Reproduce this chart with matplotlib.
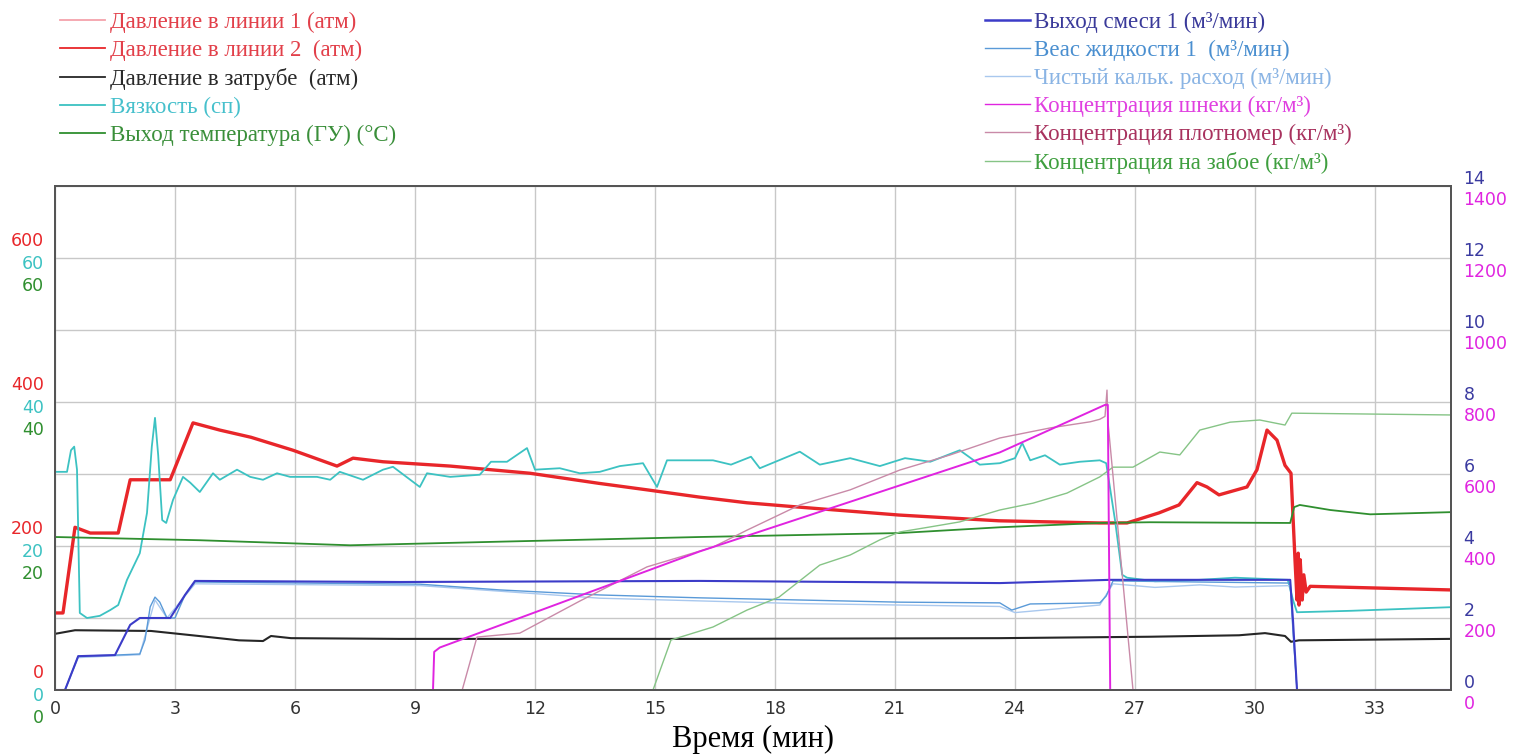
import matplotlib
matplotlib.use("Agg")
import matplotlib.pyplot as plt
from matplotlib.transforms import ScaledTranslation

# --- data (time in minutes) ---
t_p2 = [0, 0.2, 0.5, 0.88, 1.58, 1.88, 2.88, 3.45, 4.12, 4.9, 5.95, 7.05, 7.45, 8.2,
        9.88, 11.88, 13.6, 14.8, 16.1, 17.3, 18.6, 21.1, 23.6, 26.1, 26.8, 27.6, 28.1,
        28.55, 28.8, 29.1, 29.8, 30.05, 30.3, 30.55, 30.75, 30.9, 31.0, 31.05, 31.08,
        31.1, 31.13, 31.18, 31.22, 31.28, 31.38, 34.88]
p_line2 = [107, 107, 226, 218, 218, 292, 292, 371, 361, 351, 333, 311, 322, 317,
           311, 301, 287, 278, 268, 260, 254, 243, 235, 232, 232, 246, 257,
           288, 282, 271, 282, 306, 361, 347, 312, 301, 181, 125, 190,
           118, 181, 125, 160, 136, 144, 139]
# line 1 runs underneath line 2 for the whole record
t_p1 = t_p2
p_line1 = p_line2

t_ann = [0, 0.5, 2.4, 3.6, 4.6, 5.2, 5.4, 5.9, 8.6, 16.1, 23.6, 27.4, 29.6, 30.25,
         30.75, 30.9, 31.1, 34.88]
p_annulus = [78, 83, 82, 75, 69, 68, 75, 72, 71, 71, 72, 74, 76, 79, 75, 67, 69, 71]

t_visc = [0, 0.3, 0.4, 0.48, 0.55, 0.62, 0.8, 1.12, 1.38, 1.58, 1.8, 2.12, 2.3, 2.42,
          2.5, 2.58, 2.68, 2.78, 2.95, 3.2, 3.38, 3.62, 3.95, 4.12, 4.55, 4.88, 5.2,
          5.55, 5.88, 6.55, 6.88, 7.12, 7.7, 8.2, 8.45, 9.12, 9.3, 9.88, 10.62, 10.9,
          11.3, 11.8, 12.0, 12.62, 13.12, 13.62, 14.12, 14.7, 15.05, 15.3, 16.45,
          16.9, 17.4, 17.62, 18.62, 19.12, 19.88, 20.62, 21.25, 21.88, 22.62, 23.12,
          23.62, 24.0, 24.18, 24.38, 24.75, 25.12, 25.62, 26.12, 26.28, 26.5, 26.68,
          26.8, 27.5, 28.62, 29.5, 30.82, 30.95, 31.05, 32.4, 34.88]
viscosity = [30.3, 30.3, 33.3, 33.8, 30.6, 10.7, 10.0, 10.3, 11.1, 11.8, 15.3, 19.0,
             24.6, 33.8, 37.8, 32.6, 23.6, 23.2, 26.4, 29.6, 28.8, 27.5, 30.1, 29.2,
             30.6, 29.6, 29.2, 30.1, 29.6, 29.6, 29.2, 30.3, 29.2, 30.6, 31.0, 28.2,
             30.1, 29.6, 29.9, 31.7, 31.7, 33.6, 30.6, 30.8, 30.1, 30.3, 31.1, 31.5,
             28.2, 31.9, 31.9, 31.3, 32.4, 30.8, 33.1, 31.3, 32.2, 31.1, 32.2, 31.7,
             33.3, 31.3, 31.5, 32.2, 34.3, 31.9, 32.6, 31.3, 31.7, 31.9, 31.5, 23.6,
             16.0, 15.6, 15.1, 15.3, 15.6, 15.3, 12.5, 10.8, 11.0, 11.5]

t_temp = [0, 3.62, 7.38, 11.12, 16.12, 21.12, 23.62, 26.12, 27.38, 30.88, 30.98,
          31.12, 31.88, 32.88, 34.88]
temperature = [21.25, 20.8, 20.1, 20.6, 21.25, 21.8, 22.6, 23.2, 23.3, 23.2, 25.4,
               25.7, 25.0, 24.4, 24.7]

t_mix = [0, 0.25, 0.58, 1.5, 1.88, 2.12, 2.88, 3.25, 3.5, 8.62, 16.12, 23.62, 26.38,
         30.88, 30.95, 31.05, 34.88]
mix_out = [0, 0, 0.94, 0.97, 1.81, 2.0, 2.0, 2.64, 3.03, 3.0, 3.03, 2.97, 3.06,
           3.06, 1.94, 0, 0]

t_liq = [0, 0.25, 0.58, 1.5, 2.12, 2.25, 2.38, 2.5, 2.62, 2.8, 3.0, 3.25, 3.5, 9.12,
         11.12, 13.62, 16.12, 18.62, 21.12, 23.62, 23.92, 24.38, 26.12, 26.28, 26.45,
         28.62, 30.88, 30.95, 31.05, 34.88]
liq_rate = [0, 0, 0.94, 0.97, 1.0, 1.39, 2.31, 2.58, 2.44, 2.0, 2.0, 2.64, 3.0, 2.94,
            2.78, 2.64, 2.56, 2.5, 2.44, 2.42, 2.22, 2.39, 2.42, 2.61, 3.03,
            3.0, 2.97, 1.67, 0, 0]

t_net = [0, 0.25, 0.58, 1.5, 2.12, 2.5, 2.8, 3.5, 9.12, 13.62, 18.62, 23.62, 24.0,
         26.12, 26.45, 27.5, 28.62, 29.5, 30.88, 30.95, 31.05, 34.88]
net_rate = [0, 0, 0.9, 0.95, 0.98, 2.5, 2.0, 2.95, 2.9, 2.55, 2.4, 2.32, 2.15,
            2.36, 2.95, 2.85, 2.92, 2.86, 2.9, 1.6, 0, 0]

t_screw = [0, 9.45, 9.48, 9.62, 16.12, 23.62, 26.25, 26.32, 26.38, 34.88]
conc_screw = [0, 0, 106, 118, 385, 660, 792, 792, 0, 0]

t_dens = [0, 10.18, 10.55, 11.62, 13.12, 14.8, 16.45, 17.3, 18.62, 19.88, 21.12,
          22.38, 23.62, 24.88, 25.88, 26.12, 26.25, 26.3, 26.32, 26.95, 34.88]
conc_dens = [0, 0, 147, 158, 247, 342, 397, 444, 514, 556, 611, 653, 700, 728, 745,
             752, 760, 833, 750, 0, 0]

t_bottom = [0, 14.95, 15.4, 16.45, 17.3, 18.1, 19.12, 19.88, 20.62, 21.12, 21.88,
            22.62, 23.62, 24.45, 25.3, 26.12, 26.45, 26.95, 27.62, 28.12, 28.62, 29.38,
            30.12, 30.75, 30.92, 34.88]
conc_bottom = [0, 0, 139, 175, 222, 258, 347, 375, 417, 439, 453, 467, 500, 519, 547,
               592, 619, 619, 661, 653, 722, 744, 750, 736, 769, 764]

x_ticks = list(range(0, 34, 3))

# --- styling ---
SERIF = "Liberation Serif"
SANS = "DejaVu Sans"
C_P1, C_P2, C_ANN = "#f4a3ab", "#e8262a", "#262626"
C_VISC, C_TEMP = "#3cc2c2", "#2f8f2f"
C_MIX, C_LIQ, C_NET = "#3c3cc8", "#5a9ad8", "#a9c8ee"
C_SCREW, C_DENS, C_BOT = "#e024e0", "#c98aa8", "#86c486"
TICK_FS = 12.5


def shift_labels(ax, fig, dy_px):
    off = ScaledTranslation(0, dy_px / 100, fig.dpi_scale_trans)
    for lab in ax.get_yticklabels():
        lab.set_transform(lab.get_transform() + off)


fig = plt.figure(figsize=(15.13, 7.55), dpi=100)
ax_p = fig.add_axes([55 / 1513, 65 / 755, 1396 / 1513, 504 / 755])
ax_v = ax_p.twinx()
ax_t = ax_p.twinx()
ax_q = ax_p.twinx()
ax_c = ax_p.twinx()

ax_p.plot(t_p1, p_line1, color=C_P1, lw=1.0)
ax_p.plot(t_p2, p_line2, color=C_P2, lw=2.4)
ax_p.plot(t_ann, p_annulus, color=C_ANN, lw=1.5)
ax_v.plot(t_visc, viscosity, color=C_VISC, lw=1.3)
ax_t.plot(t_temp, temperature, color=C_TEMP, lw=1.3)

ax_q.plot(t_net, net_rate, color=C_NET, lw=1.0)
ax_q.plot(t_liq, liq_rate, color=C_LIQ, lw=1.0)
ax_q.plot(t_mix, mix_out, color=C_MIX, lw=1.5)
ax_c.plot(t_bottom, conc_bottom, color=C_BOT, lw=1.0)
ax_c.plot(t_dens, conc_dens, color=C_DENS, lw=1.0)
ax_c.plot(t_screw, conc_screw, color=C_SCREW, lw=1.4)

ax_p.set_xlim(0, 34.9)
ax_p.set_ylim(0, 700)
ax_v.set_ylim(0, 70)
ax_t.set_ylim(0, 70)
ax_q.set_ylim(0, 14)
ax_c.set_ylim(0, 1400)

# grid on the host axes so it stays behind every series
ax_p.set_xticks(x_ticks)
ax_p.set_xticklabels([str(v) for v in x_ticks], fontsize=TICK_FS, family=SANS,
                     color="#333333")
ax_p.set_yticks([0, 200, 400, 600])
ax_p.set_yticks([100, 300, 500, 700], minor=True)
ax_p.grid(True, which="both", color="#c8c8c8", lw=1.0)
ax_p.tick_params(axis="x", length=0, pad=7)
ax_p.tick_params(axis="y", which="both", length=0, pad=8, colors=C_P2,
                 labelsize=TICK_FS)
ax_p.set_xlabel("Время (мин)", family=SERIF, fontsize=22, labelpad=5)

for ax, col in [(ax_v, C_VISC), (ax_t, C_TEMP)]:
    ax.yaxis.tick_left()
    ax.set_yticks([0, 20, 40, 60])
    ax.tick_params(axis="y", length=0, pad=8, colors=col, labelsize=TICK_FS)

ax_q.set_yticks(range(0, 15, 2))
ax_q.tick_params(axis="y", length=0, pad=9, colors="#3a3aa0", labelsize=TICK_FS)
ax_c.set_yticks(range(0, 1401, 200))
ax_c.tick_params(axis="y", length=0, pad=9, colors=C_SCREW, labelsize=TICK_FS)

for ax in [ax_p, ax_v, ax_t, ax_q, ax_c]:
    for lab in ax.get_yticklabels():
        lab.set_family(SANS)
    for sp in ax.spines.values():
        sp.set_color("#555555")
        sp.set_linewidth(1.4)

shift_labels(ax_p, fig, 19)
shift_labels(ax_v, fig, -4)
shift_labels(ax_t, fig, -26)
shift_labels(ax_q, fig, 9)
shift_labels(ax_c, fig, -12)

# legends
left_handles = [plt.Line2D([], [], color=c, lw=1.3) for c in [C_P1, C_P2, C_ANN, C_VISC, C_TEMP]]
left_labels = ["Давление в линии 1 (атм)", "Давление в линии 2  (атм)",
               "Давление в затрубе  (атм)", "Вязкость (сп)", "Выход температура (ГУ) (°С)"]
left_text_colors = ["#e2404a", "#e2404a", "#2a2a2a", "#46c0cc", "#3a8f3a"]

right_handles = [plt.Line2D([], [], color=c, lw=1.8 if c == C_MIX else 1.0)
                 for c in [C_MIX, C_LIQ, C_NET, C_SCREW, C_DENS, C_BOT]]
right_labels = ["Выход смеси 1 (м³/мин)", "Веас жидкости 1  (м³/мин)",
                "Чистый кальк. расход (м³/мин)", "Концентрация шнеки (кг/м³)",
                "Концентрация плотномер (кг/м³)", "Концентрация на забое (кг/м³)"]
right_text_colors = ["#3a3a9a", "#4a8fd0", "#8ab4e4", "#e040e0", "#a8325e", "#3f9f3f"]

leg_kw = dict(frameon=False, prop={"family": SERIF, "size": 16.5}, handlelength=1.97,
              labelspacing=0.3, borderpad=0, borderaxespad=0)
leg1 = fig.legend(left_handles, left_labels, loc="upper left", handletextpad=0.22,
                  bbox_to_anchor=(60 / 1513, 1 - 12 / 755), **leg_kw)
leg2 = fig.legend(right_handles, right_labels, loc="upper left", handletextpad=0.15,
                  bbox_to_anchor=(985 / 1513, 1 - 12 / 755), **leg_kw)
for leg, cols in [(leg1, left_text_colors), (leg2, right_text_colors)]:
    for txt, c in zip(leg.get_texts(), cols):
        txt.set_color(c)

fig.savefig("out.png", dpi=100, facecolor="white")
